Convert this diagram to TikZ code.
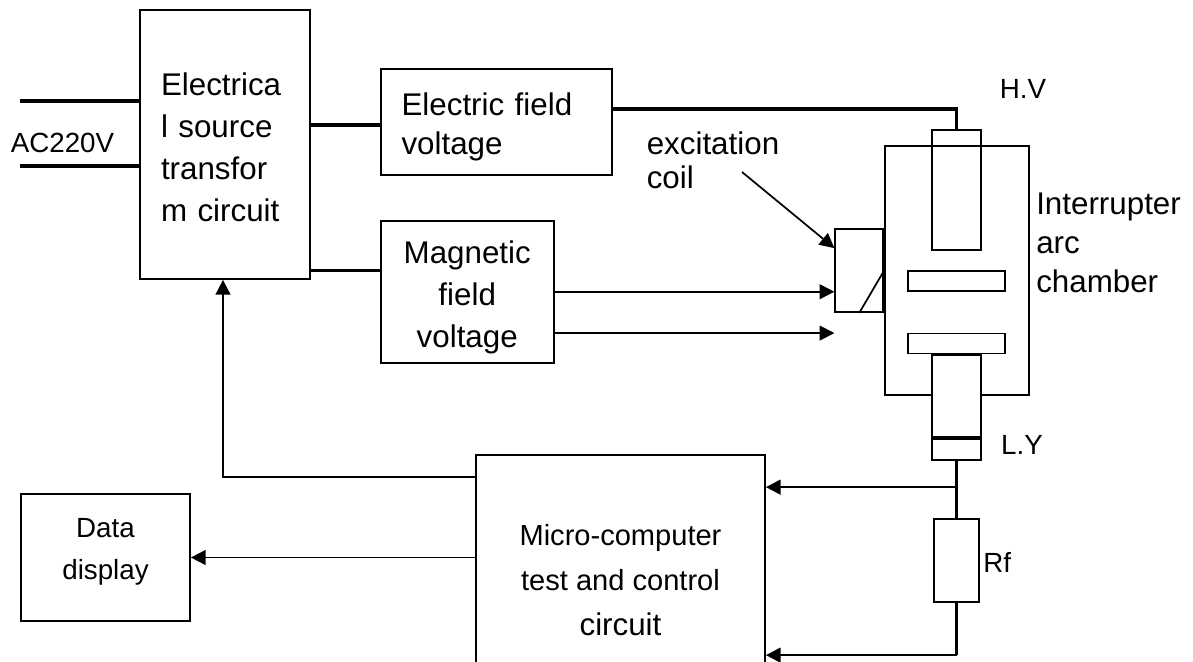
\documentclass[tikz,border=0pt]{standalone}
\usepackage{fontspec}
\setmainfont{Liberation Sans}
\usetikzlibrary{positioning,calc,arrows.meta}

\begin{document}
\begin{tikzpicture}[
  x=0.75pt, y=-0.75pt,
  bigtext/.style={font=\fontsize{23.5}{31.5}\selectfont},
  smalltext/.style={font=\fontsize{20.8}{31.5}\selectfont},
  block/.style={draw, line width=1.3pt, inner sep=0pt, bigtext},
  part/.style={draw, line width=1.3pt, inner sep=0pt},
  label/.style={inner sep=0pt, smalltext},
  wire/.style={line width=2.4pt},
  feed/.style={-{Triangle[length=11pt, width=11pt]}, line width=1.3pt},
  sense/.style={-{Triangle[length=11pt, width=11pt]}, line width=1.7pt},
]
\clip (0,0) rectangle (1193,661);

% Source and the two voltage blocks
\node[block, minimum width=127.5pt, minimum height=201.75pt, text width=96pt, align=left] (source) at (225,144.5) {
  \rule{0pt}{21.5pt}Electrica\\l source\\transfor\\m circuit
};
\node[block, minimum width=173.25pt, minimum height=79.5pt, text width=142pt, align=left,
      right=51.75pt of source.north east, anchor=north west, yshift=-44.25pt,
      font=\fontsize{23.5}{29}\selectfont] (efield) {
  \rule{0pt}{24.5pt}Electric field\\voltage
};
\node[block, minimum width=129.75pt, minimum height=106.5pt, align=center,
      below=33pt of efield.south west, anchor=north west] (mfield) {
  \rule{0pt}{26pt}Magnetic\\field\\voltage
};

% Interrupter chamber
\node[part, minimum width=108pt, minimum height=186.75pt] (chamber) at (957,270.5) {};
\node[part, minimum width=36.75pt, minimum height=90pt] (upperrod) at (956.5,190) {};
\node[part, minimum width=72.75pt, minimum height=15pt] (upperplate) at (956.5,281) {};
\node[part, minimum width=72.75pt, minimum height=15pt] (lowerplate) at (956.5,343.5) {};
\node[part, fill=white, minimum width=36.75pt, minimum height=61.5pt, below=0pt of lowerplate] (lowerrod) {};
\node[part, minimum width=36.75pt, minimum height=15.75pt, below=0pt of lowerrod] (rodcap) {};
\node[part, minimum width=36pt, minimum height=62.25pt, left=0pt of chamber] (coil) {};
\draw[line width=1.3pt] (coil.south) -- (coil.east);

% Shunt, computer, display
\node[part, minimum width=33.75pt, minimum height=62.25pt, below=42.75pt of rodcap] (shunt) {};
\node[block, minimum width=216.75pt, minimum height=183pt, align=center, font=\fontsize{21.8}{33.4}\selectfont] (micro) at (620.5,577) {
  \rule{0pt}{20.5pt}Micro-computer\\test and control\\{\fontsize{23.5}{33.4}\selectfont circuit}
};
\node[block, smalltext, minimum width=126.75pt, minimum height=95.25pt, align=center] (display) at (105.5,557.5) {
  Data\\display\rule[-13.4pt]{0pt}{0pt}
};

% Labels
\node[label] (aclabel) at (62.5,143) {AC220V};
\node[label] (hvlabel) at (1023,89) {H.V};
\node[label] (lylabel) at (1022,445) {L.Y};
\node[label, right=2.5pt of shunt, yshift=-1.5pt] (rflabel) {Rf};
\node[inner sep=0pt, bigtext, align=left, font=\fontsize{23.5}{25.5}\selectfont] (coillabel) at (713,160) {excitation\\coil};
\node[inner sep=0pt, bigtext, align=left, anchor=west, font=\fontsize{23.5}{29}\selectfont] (archlabel) at (1036,243) {Interrupter\\arc\\chamber};

% Free ends and taps
\coordinate (acupper) at (20,101);
\coordinate (aclower) at (20,166);
\coordinate (coillead) at (742,172);

% Mains and voltage wires
\draw[wire] (acupper) -- (acupper -| source.west);
\draw[wire] (aclower) -- (aclower -| source.west);
\draw[wire] ([yshift=-2.25pt]efield.west) -- ([yshift=-2.25pt]efield.west -| source.east);
\draw[wire] ([yshift=-38.25pt]mfield.north west) -- ([yshift=-38.25pt]mfield.north west -| source.east);
\draw[wire] ([yshift=9.75pt]efield.east) -| (upperrod.north);

% Coil feeds
\draw[feed] (mfield.east) -- (mfield.east -| coil.west);
\draw[feed] ([yshift=-31pt]mfield.east) -- ([yshift=-31pt]mfield.east -| coil.west);
\draw[feed] (coillead) -- ([yshift=-15pt]coil.north west);

% Measuring side
\draw[wire] (rodcap.south) -- (shunt.north);
\draw[wire] (shunt.south) -- ([yshift=-150.75pt]micro.north east -| shunt.south);
\draw[sense] ([yshift=-24.75pt]micro.north east -| rodcap.south) -- ([yshift=-24.75pt]micro.north east);
\draw[sense] ([yshift=-150.75pt]micro.north east -| shunt.south) -- ([yshift=-150.75pt]micro.north east);
\draw[feed] (display.east -| micro.west) -- (display.east);
\draw[feed] ([yshift=-17.25pt]micro.north west) -| ([xshift=-1.5pt]source.south);

\end{tikzpicture}
\end{document}
